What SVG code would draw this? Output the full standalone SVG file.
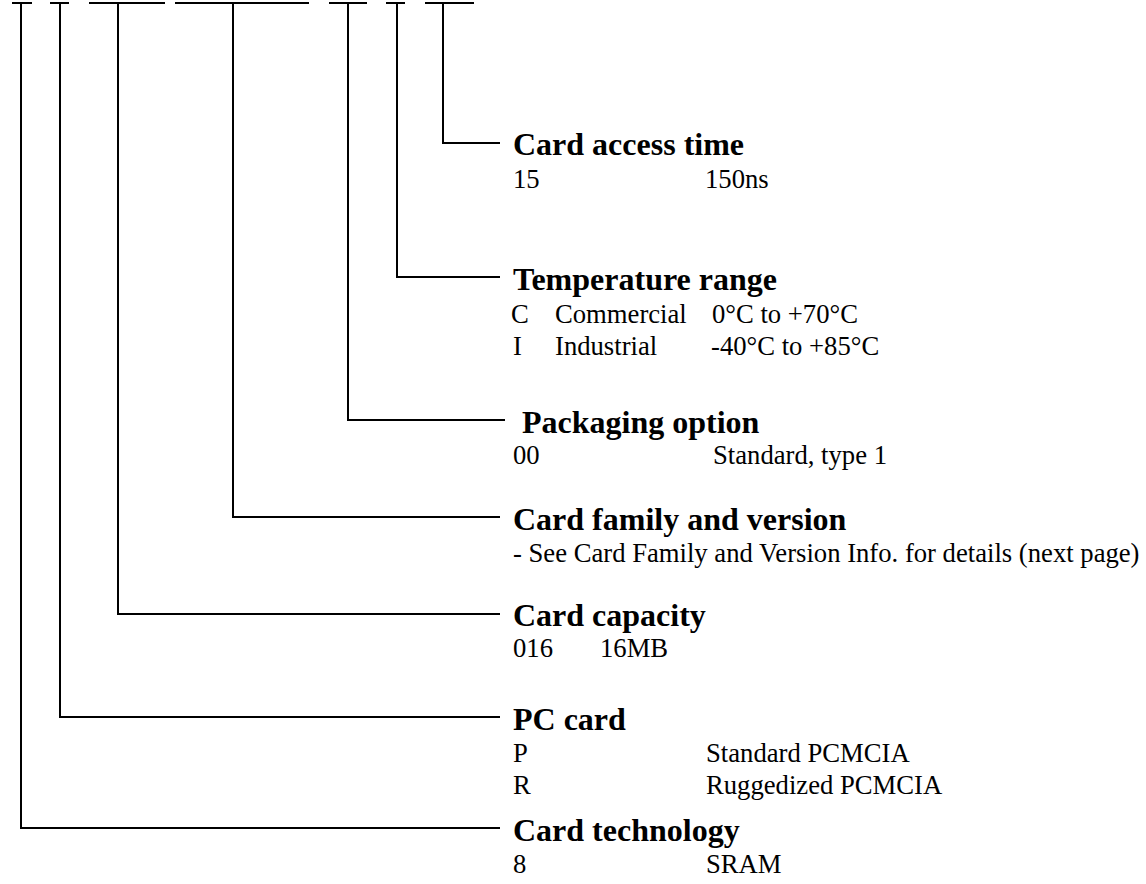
<svg xmlns="http://www.w3.org/2000/svg" width="1146" height="884" viewBox="0 0 1146 884">
<style>
.ln{fill:none;stroke:#000;stroke-width:2}
.t{font-family:"Liberation Serif","Times New Roman",serif;font-weight:bold;font-size:32px;fill:#000}
.b{font-family:"Liberation Serif","Times New Roman",serif;font-size:26.67px;fill:#000}
</style>
<rect width="1146" height="884" fill="#fff"/>
<g id="connectors">
<path class="ln" d="M12,3H32M21,3V828H500"/>
<path class="ln" d="M50,3H69M60,3V717H500"/>
<path class="ln" d="M89,3H165M118,3V614H500"/>
<path class="ln" d="M175,3H309M233,3V517H500"/>
<path class="ln" d="M329,3H367M348,3V420H505"/>
<path class="ln" d="M386,3H405M397,3V277H500"/>
<path class="ln" d="M425,3H474M443,3V143H500"/>
</g>
<g id="access">
<text class="t" x="513" y="155">Card access time</text>
<text class="b" x="513" y="188">15</text><text class="b" x="705" y="188">150ns</text>
</g>
<g id="temp">
<text class="t" x="513" y="290">Temperature range</text>
<text class="b" x="511" y="323">C</text><text class="b" x="555" y="323">Commercial</text><text class="b" x="712" y="323">0°C  to +70°C</text>
<text class="b" x="513" y="355">I</text><text class="b" x="555" y="355">Industrial</text><text class="b" x="711" y="355">-40°C to +85°C</text>
</g>
<g id="packaging">
<text class="t" x="522" y="433">Packaging option</text>
<text class="b" x="513" y="464">00</text><text class="b" x="713" y="464">Standard, type 1</text>
</g>
<g id="family">
<text class="t" x="513" y="530">Card family and version</text>
<text class="b" x="513" y="562">- See Card Family and Version Info. for details (next page)</text>
</g>
<g id="capacity">
<text class="t" x="513" y="626">Card capacity</text>
<text class="b" x="513" y="657">016</text><text class="b" x="600" y="657">16MB</text>
</g>
<g id="pccard">
<text class="t" x="513" y="730">PC card</text>
<text class="b" x="513" y="762">P</text><text class="b" x="706" y="762">Standard PCMCIA</text>
<text class="b" x="513" y="794">R</text><text class="b" x="706" y="794">Ruggedized PCMCIA</text>
</g>
<g id="technology">
<text class="t" x="513" y="841">Card technology</text>
<text class="b" x="513" y="873">8</text><text class="b" x="706" y="873">SRAM</text>
</g>
</svg>
